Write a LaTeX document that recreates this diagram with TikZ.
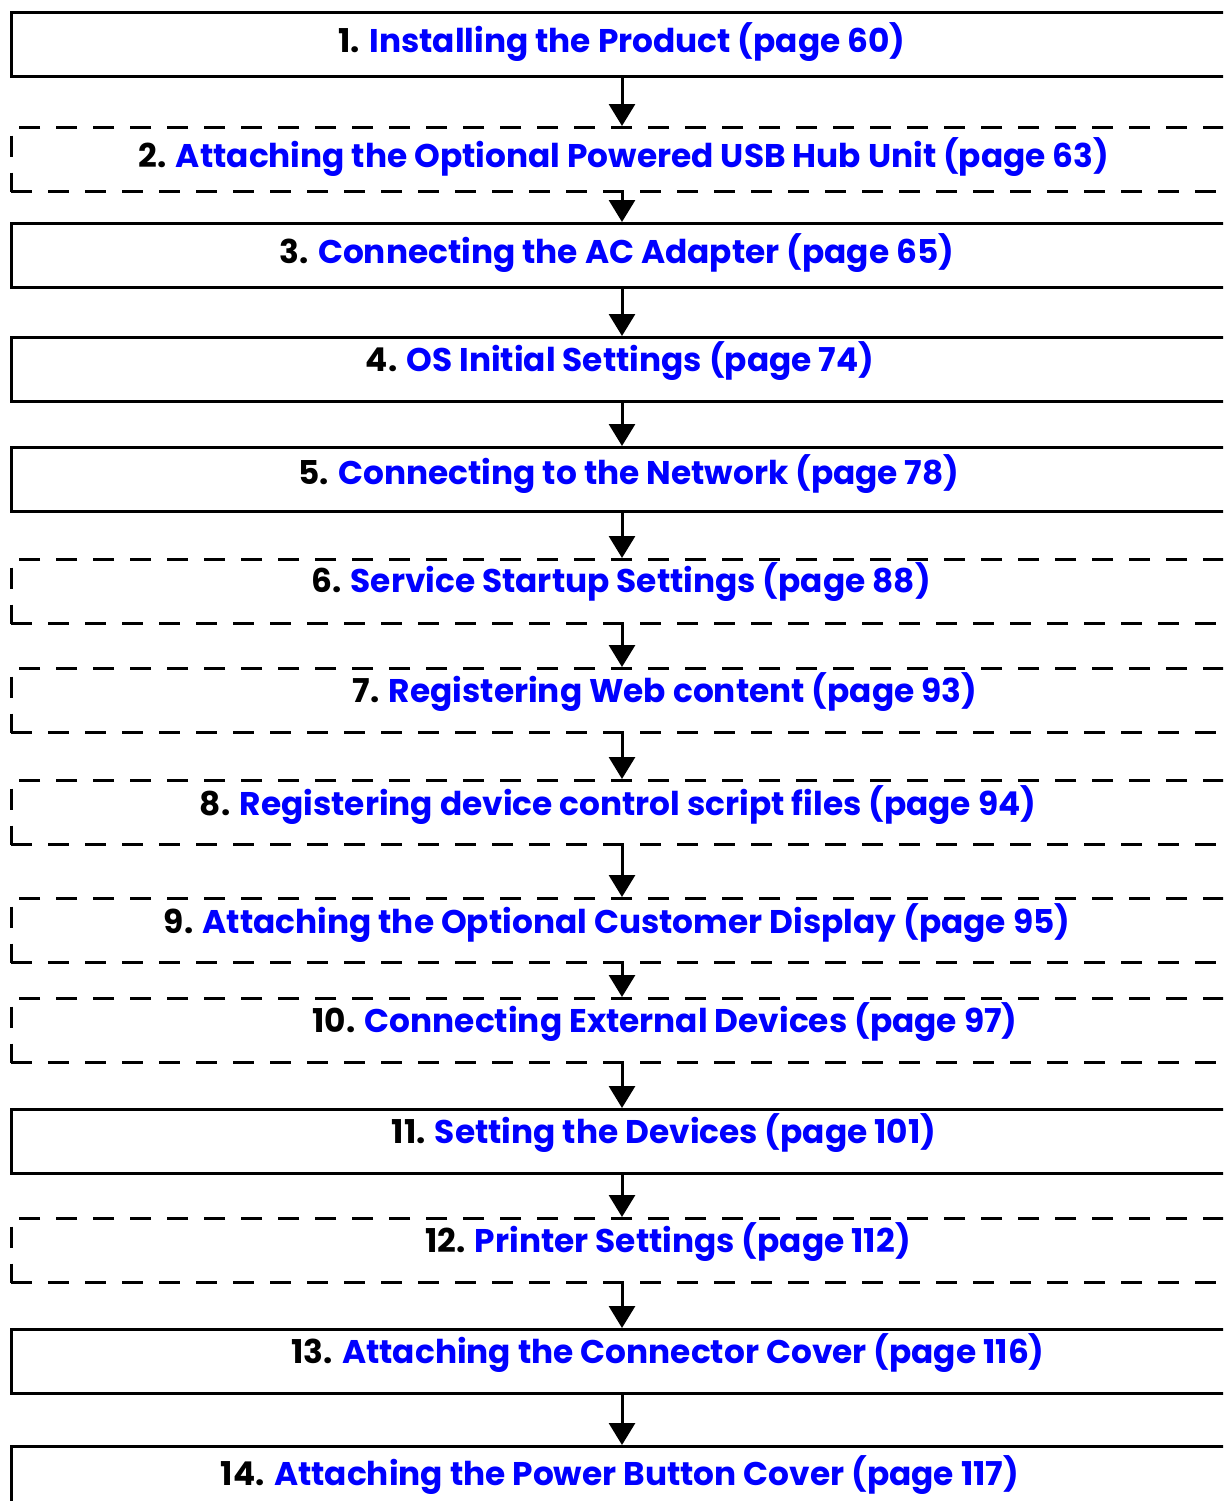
\documentclass[tikz,border=0pt]{standalone}
\usepackage{fontspec}
\setmainfont{Poppins}
\usetikzlibrary{arrows.meta,positioning}
\definecolor{linkblue}{rgb}{0, 0, 1}
\tikzset{
  paso/.style={
    draw=black,
    line width=1.5pt,
    anchor=north,
    minimum width=611pt,
    minimum height=32pt,
    inner sep=0pt
  },
  opcional/.style={
    paso,
    dash pattern=on 10.5pt off 8pt
  },
  etiqueta/.style={
    anchor=base,
    inner sep=0pt,
    font=\bfseries\fontsize{16.4}{19}\selectfont
  },
  flecha/.style={
    -{Triangle[length=11pt,width=13pt]},
    line width=1.5pt
  }
}

\begin{document}
\begin{tikzpicture}[x=0.5pt,y=-0.5pt]
\clip (0,0) rectangle (1223,1501);
% pasos
\node[paso] (p1) at (622,11) {};
\node[opcional] (p2) at (622,126) {};
\node[paso] (p3) at (622,222) {};
\node[paso] (p4) at (622,336) {};
\node[paso] (p5) at (622,446) {};
\node[opcional] (p6) at (622,558) {};
\node[opcional] (p7) at (622,667) {};
\node[opcional] (p8) at (622,779) {};
\node[opcional] (p9) at (622,897) {};
\node[opcional] (p10) at (622,997) {};
\node[paso] (p11) at (622,1108) {};
\node[opcional] (p12) at (622,1217) {};
\node[paso] (p13) at (622,1328) {};
\node[paso] (p14) at (622,1445) {};
% textos
\node[etiqueta] (t1) at (622,52) {1. \textcolor{linkblue}{Installing the Product (page 60)}};
\node[etiqueta] (t2) at (624,167) {2. \textcolor{linkblue}{Attaching the Optional Powered USB Hub Unit (page 63)}};
\node[etiqueta] (t3) at (617,263) {3. \textcolor{linkblue}{Connecting the AC Adapter (page 65)}};
\node[etiqueta] (t4) at (620,371) {4. \textcolor{linkblue}{OS Initial Settings (page 74)}};
\node[etiqueta] (t5) at (629,484) {5. \textcolor{linkblue}{Connecting to the Network (page 78)}};
\node[etiqueta] (t6) at (621,592) {6. \textcolor{linkblue}{Service Startup Settings (page 88)}};
\node[etiqueta] (t7) at (665,702) {7. \textcolor{linkblue}{Registering Web content (page 93)}};
\node[etiqueta] (t8) at (618,815) {8. \textcolor{linkblue}{Registering device control script files (page 94)}};
\node[etiqueta] (t9) at (617,933) {9. \textcolor{linkblue}{Attaching the Optional Customer Display (page 95)}};
\node[etiqueta] (t10) at (665,1032) {10. \textcolor{linkblue}{Connecting External Devices (page 97)}};
\node[etiqueta] (t11) at (664,1143) {11. \textcolor{linkblue}{Setting the Devices (page 101)}};
\node[etiqueta] (t12) at (668,1252) {12. \textcolor{linkblue}{Printer Settings (page 112)}};
\node[etiqueta] (t13) at (668,1363) {13. \textcolor{linkblue}{Attaching the Connector Cover (page 116)}};
\node[etiqueta] (t14) at (620,1485) {14. \textcolor{linkblue}{Attaching the Power Button Cover (page 117)}};
% flechas
\draw[flecha] (p1) -- (p2);
\draw[flecha] (p2) -- (p3);
\draw[flecha] (p3) -- (p4);
\draw[flecha] (p4) -- (p5);
\draw[flecha] (p5) -- (p6);
\draw[flecha] (p6) -- (p7);
\draw[flecha] (p7) -- (p8);
\draw[flecha] (p8) -- (p9);
\draw[flecha] (p9) -- (p10);
\draw[flecha] (p10) -- (p11);
\draw[flecha] (p11) -- (p12);
\draw[flecha] (p12) -- (p13);
\draw[flecha] (p13) -- (p14);
\end{tikzpicture}
\end{document}
